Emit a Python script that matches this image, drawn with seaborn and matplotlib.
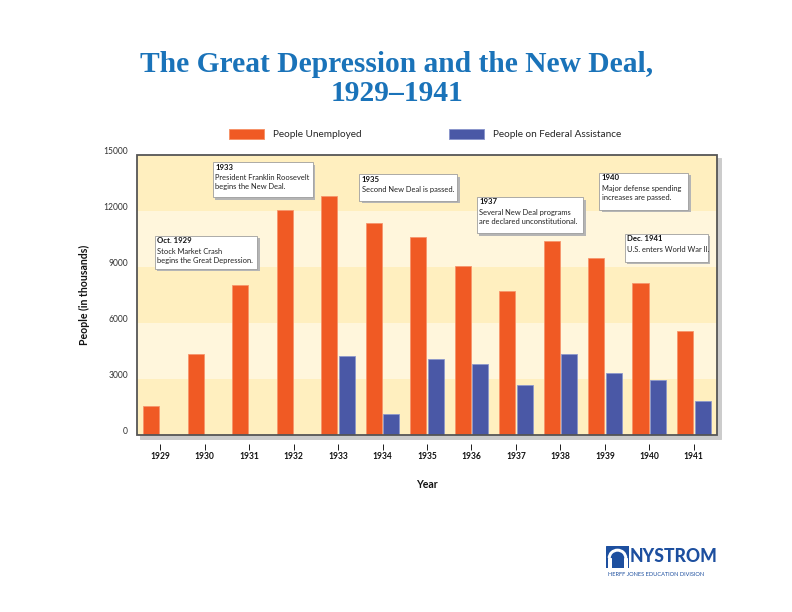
import numpy as np
import pandas as pd
import matplotlib.pyplot as plt
import seaborn as sns
from matplotlib.patches import Rectangle, Patch, Arc, Circle
from matplotlib.transforms import ScaledTranslation

# data (thousands of people)
years = ['1929', '1930', '1931', '1932', '1933', '1934', '1935',
         '1936', '1937', '1938', '1939', '1940', '1941']
unemployed = [1550, 4340, 8020, 12060, 12830, 11340, 10610,
              9030, 7700, 10390, 9480, 8120, 5560]
assistance = [np.nan, np.nan, np.nan, np.nan, 4250, 1120, 4070,
              3800, 2680, 4330, 3320, 2950, 1820]
series_names = ['People Unemployed', 'People on Federal Assistance']
y_ticks = [0, 3000, 6000, 9000, 12000, 15000]

note_heads = ['Oct. 1929', '1933', '1935', '1937', '1940', 'Dec. 1941']
note_bodies = ['Stock Market Crash\nbegins the Great Depression.',
               'President Franklin Roosevelt\nbegins the New Deal.',
               'Second New Deal is passed.',
               'Several New Deal programs\nare declared unconstitutional.',
               'Major defense spending\nincreases are passed.',
               'U.S. enters World War II.']
# box corners in axes fraction: x0, y_top, x1, y_bottom
note_boxes = [(0.031, 0.711, 0.207, 0.593),
              (0.131, 0.975, 0.303, 0.850),
              (0.383, 0.932, 0.552, 0.836),
              (0.586, 0.850, 0.769, 0.721),
              (0.797, 0.936, 0.950, 0.804),
              (0.841, 0.718, 0.984, 0.618)]

orange = '#F05A24'
blue = '#4A58A6'
band_dark = '#FFEFBF'
band_light = '#FFF6DC'
title_blue = '#1A73B9'

df = pd.DataFrame({'year': years * 2,
                   'people': unemployed + assistance,
                   'series': [series_names[0]] * len(years) + [series_names[1]] * len(years)})
df = df.dropna()

sns.set_style('white')
plt.rcParams['font.family'] = ['Lato', 'DejaVu Sans']
note_font = ['Liberation Sans Narrow', 'Lato', 'DejaVu Sans']

fig = plt.figure(figsize=(11, 8.5), dpi=72)
W, H = 792, 612
ax = fig.add_axes([137 / W, 1 - 435 / H, 580 / W, 280 / H])

# drop shadow of the plot frame
fig.patches.append(Rectangle((140 / W, 1 - 439 / H), 581 / W, 281 / H,
                             transform=fig.transFigure, color='#cccccc', zorder=-5))

for i in range(5):
    ax.axhspan(i * 3000, (i + 1) * 3000, color=band_dark if i % 2 == 0 else band_light,
               lw=0, zorder=0)

sns.barplot(data=df, x='year', y='people', hue='series', hue_order=series_names,
            order=years, palette=[orange, blue], saturation=1, width=0.8, gap=0.1,
            ax=ax, zorder=2, errorbar=None)
for cont, ec in zip(ax.containers, ['#F6946B', '#8C97CC']):
    for bar in cont:
        bar.set_edgecolor(ec)
        bar.set_linewidth(0.8)
ax.legend_.remove()

ax.set_xlim(-0.52, 12.52)
ax.set_ylim(0, 15000)

# frame
ax.add_patch(Rectangle((0, 0), 1, 1, transform=ax.transAxes, fill=False,
                       edgecolor='#555555', lw=1.8, clip_on=False, zorder=5))
for s in ax.spines.values():
    s.set_visible(False)
ax.spines['bottom'].set_position(('outward', 9))

ax.set_yticks(y_ticks)
ax.set_yticklabels([str(v) for v in y_ticks])
ax.tick_params(axis='y', length=0, pad=9, labelsize=8.5, labelcolor='#333333')
for lab in ax.get_yticklabels():
    lab.set_transform(lab.get_transform() + ScaledTranslation(0, 4 / 72, fig.dpi_scale_trans))
ax.tick_params(axis='x', length=6, width=1, color='#222222', direction='out',
               pad=2, labelsize=8.5, labelcolor='#111111', bottom=True)
for lab in ax.get_xticklabels():
    lab.set_fontweight('bold')
ax.set_xlabel('')
ax.set_ylabel('')
ax.grid(False)

fig.text(427 / W, 1 - 485 / H, 'Year', ha='center', va='center',
         fontsize=10.5, fontweight='bold', color='#111111')
fig.text(84 / W, 1 - 295 / H, 'People (in thousands)', ha='center', va='center',
         rotation=90, fontsize=10.5, fontweight='bold', color='#111111')

# annotation boxes
px = 1 / 580
py = 1 / 280
for head, body, (x0, yt, x1, yb) in zip(note_heads, note_bodies, note_boxes):
    ax.add_patch(Rectangle((x0 + 2.5 * px, yb - 2.5 * py), x1 - x0, yt - yb,
                           transform=ax.transAxes, color='#b5b5b5', lw=0,
                           clip_on=False, zorder=6))
    ax.add_patch(Rectangle((x0, yb), x1 - x0, yt - yb, transform=ax.transAxes,
                           facecolor='white', edgecolor='#9a9a9a', lw=0.8,
                           clip_on=False, zorder=7))
    ax.text(x0 + 2.5 * px, yt - 1.5 * py, head, transform=ax.transAxes, ha='left',
            va='top', fontsize=7.8, fontweight='bold', family=note_font,
            color='#111111', zorder=8)
    ax.text(x0 + 2.5 * px, yt - 12 * py, body, transform=ax.transAxes, ha='left',
            va='top', fontsize=7.5, family=note_font, color='#222222',
            linespacing=1.3, zorder=8)

# legend
handles = [Patch(facecolor=orange, edgecolor='#F6946B'), Patch(facecolor=blue, edgecolor='#8C97CC')]
fig.legend(handles, series_names, loc='center', bbox_to_anchor=(425 / W, 1 - 134 / H),
           ncol=2, frameon=False, fontsize=10, handlelength=3.5, handleheight=1.2,
           handletextpad=0.9, columnspacing=8.8)

# title
fig.text(397 / W, 1 - 79 / H, 'The Great Depression and the New Deal,\n1929\u20131941',
         ha='center', va='center', family='Liberation Serif', fontweight='bold',
         fontsize=29.5, color=title_blue, linespacing=1.08)

# publisher mark
logo_blue = '#1D4F9F'
lax = fig.add_axes([606 / W, 1 - 568 / H, 23 / W, 22 / H])
lax.set_xlim(0, 1)
lax.set_ylim(0, 1)
lax.axis('off')
lax.add_patch(Rectangle((0, 0), 1, 1, color=logo_blue))
lax.add_patch(Arc((0.5, 0.45), 0.72, 0.72, theta1=0, theta2=180, color='white', lw=3))
lax.add_patch(Rectangle((0.1, 0), 0.12, 0.45, color='white'))
lax.add_patch(Rectangle((0.78, 0), 0.12, 0.45, color='white'))
lax.add_patch(Circle((0.5, 0.45), 0.16, color=logo_blue))
fig.text(630 / W, 1 - 557 / H, 'NYSTROM', ha='left', va='center', fontsize=17.5,
         fontweight='black', color=logo_blue)
fig.text(608 / W, 1 - 574 / H, 'HERFF JONES EDUCATION DIVISION', ha='left', va='center',
         fontsize=5.6, color=logo_blue)

fig.savefig('out.png', dpi=72)
